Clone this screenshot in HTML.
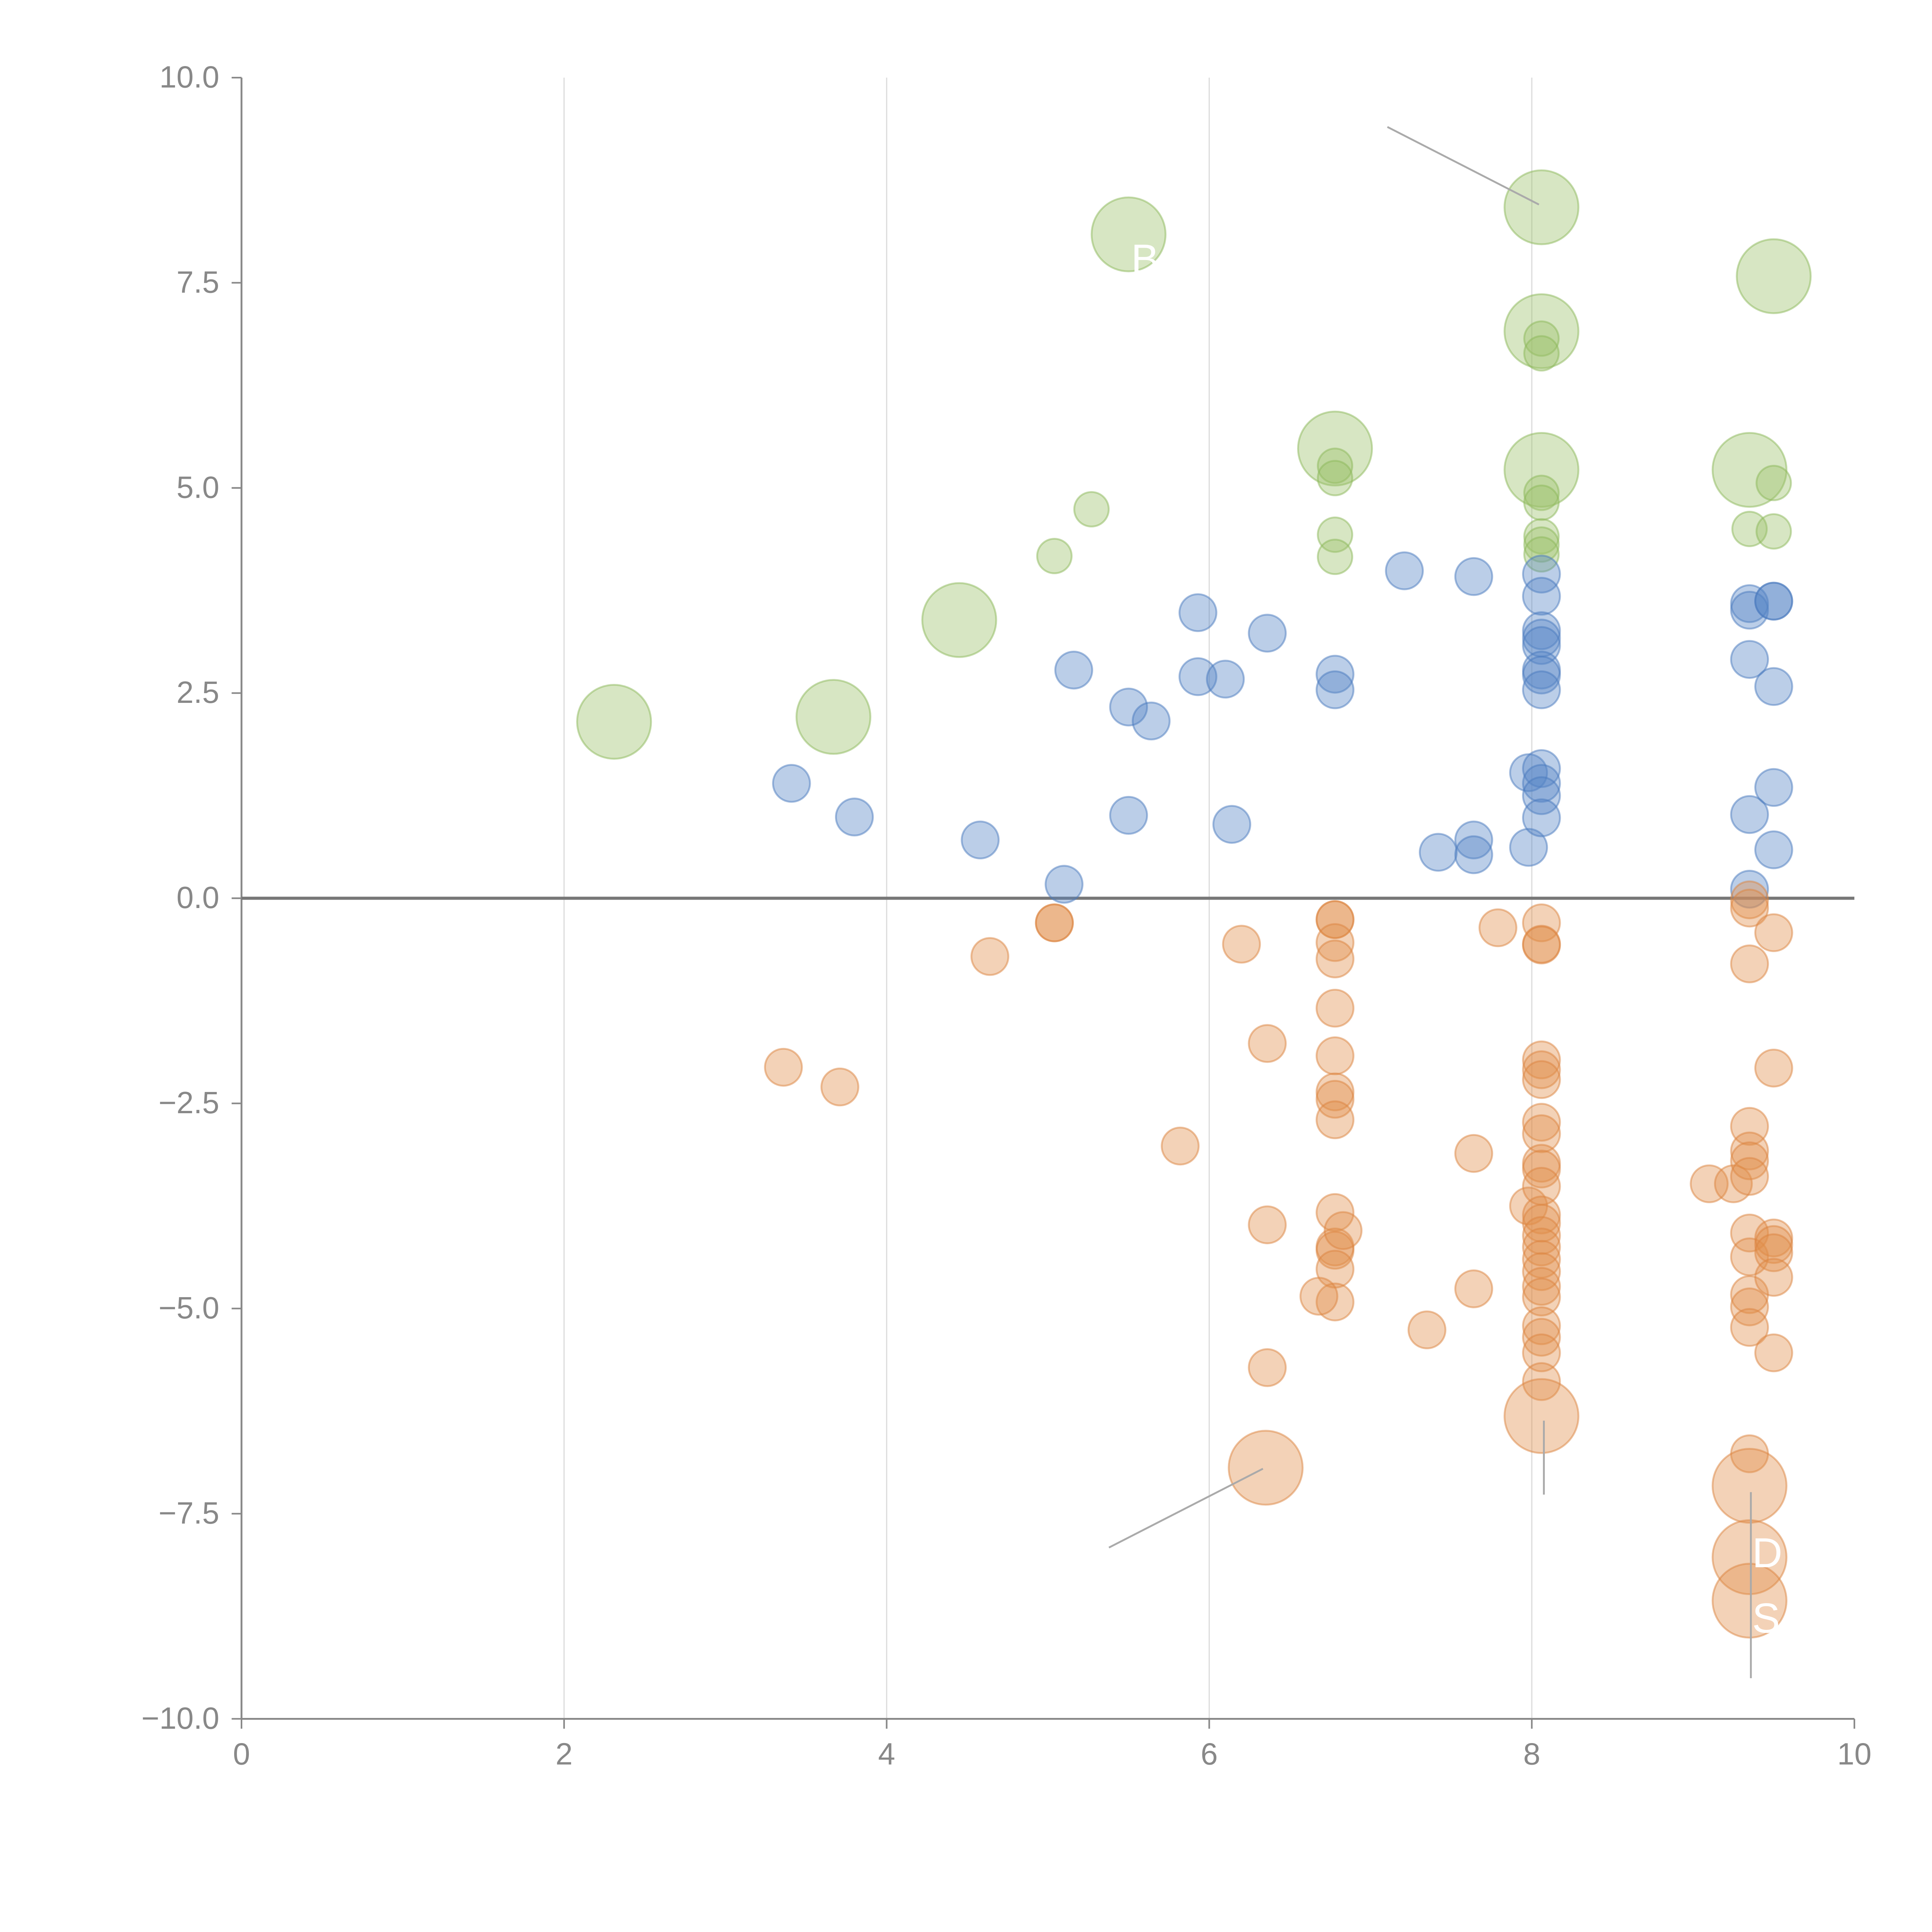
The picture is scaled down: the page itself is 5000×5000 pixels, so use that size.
<!DOCTYPE html>
<html><head><meta charset="utf-8"><style>
html,body{margin:0;padding:0;background:#fff}
svg{display:block}
text{font-family:"Liberation Sans",Arial,sans-serif}
</style></head><body>
<svg id="chart" width="5000" height="5000" viewBox="0 0 1568 1568" xmlns="http://www.w3.org/2000/svg">
<g id="grid"></g>
<g id="axes"></g>
<g id="marks"></g>
<g id="annot"></g>
</svg>
<script>
const xTicks=[0,2,4,6,8,10];
const yTicks=[-10,-7.5,-5,-2.5,0,2.5,5,7.5,10];
const yTickLabels=["−10.0","−7.5","−5.0","−2.5","0.0","2.5","5.0","7.5","10.0"];
const greenBigX=[2.31,3.67,4.45,5.50,6.78,8.06,8.06,8.06,9.35,9.50];
const greenBigY=[2.15,2.21,3.39,8.09,5.48,8.42,6.91,5.22,5.22,7.58];
const greenX=[5.27,5.04,6.78,6.78,6.78,6.78,8.06,8.06,8.06,8.06,8.06,8.06,8.06,9.35,9.50,9.50];
const greenY=[4.74,4.17,5.27,5.12,4.43,4.16,6.82,6.64,4.94,4.82,4.41,4.31,4.19,4.50,5.06,4.47];
const blueX=[3.41,3.80,4.58,5.10,5.16,5.50,5.64,5.50,5.93,5.93,6.10,6.14,6.36,6.78,6.78,7.21,7.42,7.64,7.64,7.64,7.98,7.98,8.06,8.06,8.06,8.06,8.06,8.06,8.06,8.06,8.06,8.06,8.06,8.06,9.35,9.35,9.35,9.35,9.35,9.50,9.50,9.50,9.50,9.50];
const blueY=[1.40,0.99,0.71,0.17,2.78,2.33,2.16,1.01,3.48,2.70,2.67,0.90,3.23,2.73,2.54,3.99,0.56,3.92,0.71,0.53,1.53,0.62,3.95,3.68,3.26,3.17,3.08,2.78,2.72,2.54,1.58,1.40,1.25,0.98,3.59,3.51,2.91,1.02,0.11,3.62,3.62,2.58,1.35,0.59];
const orangeX=[3.36,3.71,4.64,5.04,5.04,5.82,6.20,6.36,6.36,6.36,
6.78,6.78,6.78,6.78,6.78,6.78,6.78,6.78,6.78,6.78,6.78,6.78,6.78,6.78,
6.83,6.68,7.35,7.64,7.64,7.79,7.98,
8.06,8.06,8.06,8.06,8.06,8.06,8.06,8.06,8.06,8.06,8.06,8.06,8.06,8.06,8.06,8.06,8.06,8.06,8.06,8.06,8.06,8.06,8.06,
9.10,9.25,
9.35,9.35,9.35,9.35,9.35,9.35,9.35,9.35,9.35,9.35,9.35,9.35,9.35,
9.50,9.50,9.50,9.50,9.50,9.50,9.50];
const orangeY=[-2.06,-2.30,-0.71,-0.30,-0.30,-3.02,-0.56,-1.77,-3.98,-5.72,
-0.26,-0.26,-0.54,-0.74,-1.34,-1.92,-2.36,-2.45,-2.70,-3.83,-4.25,-4.29,-4.52,-4.92,
-4.05,-4.85,-5.26,-3.11,-4.76,-0.36,-3.75,
-0.30,-0.56,-0.57,-1.97,-2.09,-2.21,-2.73,-2.87,-3.23,-3.30,-3.51,-3.86,-3.96,-4.11,-4.25,-4.40,-4.55,-4.73,-4.86,-5.21,-5.35,-5.54,-5.89,
-3.48,-3.48,
-0.02,-0.12,-0.80,-2.78,-3.08,-3.20,-3.39,-4.08,-4.37,-4.83,-4.98,-5.23,-6.77,
-0.42,-2.07,-4.14,-4.22,-4.32,-4.62,-5.54];
const orangeBigX=[6.35,8.06,9.35,9.35,9.35];
const orangeBigY=[-6.94,-6.31,-7.16,-8.03,-8.56];

const NS="http://www.w3.org/2000/svg";
const X0=196,X1=1505,Y0=1395,Y1=63;
const sx=v=>X0+(v-0)/(10-0)*(X1-X0);
const sy=v=>Y0-(v+10)/20*(Y0-Y1);
function mk(tag,attrs,parent){const e=document.createElementNS(NS,tag);for(const k in attrs)e.setAttribute(k,attrs[k]);parent.appendChild(e);return e;}
const grid=document.getElementById('grid'),axes=document.getElementById('axes'),marks=document.getElementById('marks'),annot=document.getElementById('annot');

xTicks.forEach(t=>{
  if(t>0&&t<10){const l=mk('line',{x1:sx(t),x2:sx(t),y1:Y1,y2:Y0,stroke:'#dddddd','stroke-width':1},grid);
  
  }
  const tk=mk('line',{x1:sx(t),x2:sx(t),y1:Y0,y2:Y0+8,stroke:'#888','stroke-width':1.3},axes);
  
  
  const tx=mk('text',{x:sx(t),y:Y0+37,'text-anchor':'middle','font-size':25,fill:'#888'},axes);
  tx.textContent=t;
  
  
});
yTicks.forEach((t,i)=>{
  const tk=mk('line',{x1:X0-8,x2:X0,y1:sy(t),y2:sy(t),stroke:'#888','stroke-width':1.3},axes);
  
  
  const tx=mk('text',{x:X0-18,y:sy(t)+8,'text-anchor':'end','font-size':25,fill:'#888'},axes);
  tx.textContent=yTickLabels[i];
  
  
});
const ya=mk('line',{x1:X0,x2:X0,y1:Y1,y2:Y0,stroke:'#888','stroke-width':1.5},axes);


const xa=mk('line',{x1:X0,x2:X1,y1:Y0,y2:Y0,stroke:'#888','stroke-width':1.5},axes);



function series(xs,ys,r,fill,stroke,name){
  xs.forEach((x,i)=>{
    const c=mk('circle',{cx:sx(x),cy:sy(ys[i]),r:r,fill:fill,'fill-opacity':0.4,stroke:stroke,'stroke-opacity':0.5,'stroke-width':1.5},marks);
    
    
  });
}
series(greenBigX,greenBigY,30,'#9cc16a','#8cb85a','green-bubble-large');
series(greenX,greenY,14,'#9cc16a','#8cb85a','green-bubble');
series(blueX,blueY,15,'#5585c5','#4a7abd','blue-bubble');
series(orangeX,orangeY,15,'#e08f4c','#dc8440','orange-bubble');
series(orangeBigX,orangeBigY,30,'#e08f4c','#dc8440','orange-bubble-large');

const zl=mk('line',{x1:X0,x2:X1,y1:sy(0),y2:sy(0),stroke:'#777','stroke-width':2.5},axes);



[[1126,103,1249,166],[900,1256,1025,1192],[1253,1153,1253,1213],[1421,1211,1421,1362]].forEach(a=>{
  const l=mk('line',{x1:a[0],y1:a[1],x2:a[2],y2:a[3],stroke:'#aaa','stroke-width':1.5},annot);
  
  
});
[["B",918,222],["D",1422,1272],["S",1422,1325]].forEach(a=>{
  const t=mk('text',{x:a[1],y:a[2],'font-size':34,fill:'#fff'},annot);
  t.textContent=a[0];
  
  
});
</script>
</body></html>
